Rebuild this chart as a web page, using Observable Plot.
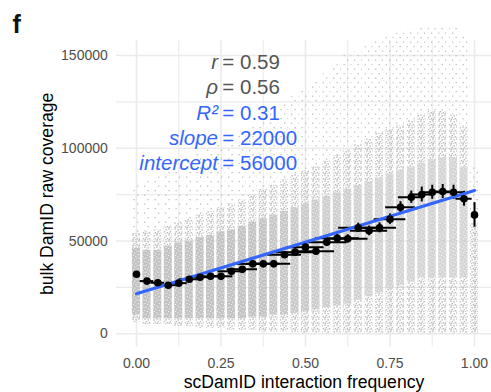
<!DOCTYPE html>
<html><head><meta charset="utf-8">
<script src="https://cdn.jsdelivr.net/npm/d3@7"></script>
<script src="https://cdn.jsdelivr.net/npm/@observablehq/plot@0.6"></script>
<style>
body{margin:0;background:#fff;}
#chart{position:relative;width:491px;height:392px;}
</style></head><body>
<svg width="0" height="0" style="position:absolute">
<defs>
<pattern id="pCore" patternUnits="userSpaceOnUse" width="7" height="7">
  <rect x="0" y="0" width="7" height="7" fill="#c3c3c3"/>
  <g fill="#ffffff">
  <rect x="1.2" y="0.6" width="1" height="1"/><rect x="4.6" y="2.1" width="1" height="1"/>
  <rect x="2.4" y="4.3" width="1" height="1"/><rect x="5.7" y="5.6" width="1" height="1"/>
  <rect x="0.2" y="3.0" width="0.9" height="0.9"/><rect x="3.6" y="6.2" width="0.9" height="0.8"/>
  </g>
</pattern>
<pattern id="pMid" patternUnits="userSpaceOnUse" width="6" height="6">
  <g fill="#bdbdbd">
  <rect x="0.2" y="0.3" width="1.5" height="1.5"/><rect x="3.4" y="1.1" width="1.5" height="1.5"/>
  <rect x="1.6" y="2.9" width="1.5" height="1.5"/><rect x="4.6" y="3.9" width="1.4" height="1.5"/>
  <rect x="0.5" y="4.6" width="1.5" height="1.4"/><rect x="2.9" y="5.2" width="1.3" height="0.8"/>
  </g>
</pattern>
<pattern id="pSparse" patternUnits="userSpaceOnUse" width="7" height="9">
  <rect x="0.5" y="1" width="1.3" height="1.3" fill="#bdbdbd"/>
  <rect x="4.0" y="5.5" width="1.3" height="1.3" fill="#bdbdbd"/>
</pattern>
</defs></svg>
<div id="chart"></div>
<script>
// ---- data ----
const binX = [0, 0.031, 0.063, 0.094, 0.125, 0.156, 0.188, 0.219, 0.25, 0.281, 0.313, 0.344, 0.375, 0.406, 0.438, 0.469, 0.5, 0.531, 0.563, 0.594, 0.625, 0.656, 0.688, 0.719, 0.75, 0.781, 0.813, 0.844, 0.875, 0.906, 0.938, 0.969, 1];
const meanCov = [32100, 28400, 27500, 26200, 27300, 29400, 30500, 31000, 31000, 33700, 34800, 37700, 37700, 37700, 42600, 44000, 46700, 44500, 49400, 51500, 51200, 57100, 55500, 57100, 61800, 68200, 73600, 75100, 76300, 76700, 76300, 72800, 64100];
const covErr = [1200, 1000, 900, 900, 900, 900, 1000, 1000, 1000, 1100, 1200, 1300, 1400, 1500, 1600, 1700, 1800, 1900, 2000, 2100, 2200, 2500, 2600, 2700, 2800, 3000, 3300, 4000, 3800, 3800, 3800, 4000, 6600];
const freqErr = [0, 0.02, 0.02, 0.025, 0.025, 0.03, 0.03, 0.035, 0.035, 0.04, 0.045, 0.045, 0.05, 0.05, 0.05, 0.055, 0.055, 0.055, 0.06, 0.065, 0.06, 0.058, 0.055, 0.05, 0.047, 0.044, 0.038, 0.036, 0.03, 0.03, 0.03, 0.024, 0];
// raw-point cloud per bin: lowest, dense-core bottom, dense-core top, medium top, highest, core density
const cloudMin    = [6000, 5000, 5000, 5000, 4000, 4000, 3000, 3000, 3000, 2000, 2000, 2000, 1000, 1000, 1000, 500, 0, 0, 0, 0, 0, 0, 0, 0, 0, 0, 0, 0, 0, 0, 0, 0, 0];
const cloudCoreLo = [10000, 8000, 8000, 8000, 8000, 8000, 8000, 8000, 8000, 8000, 8000, 9000, 9000, 10000, 10000, 11000, 12000, 13000, 14000, 15000, 16000, 18000, 20000, 22000, 24000, 26000, 28000, 30000, 30000, 30000, 30000, 30000, 40000];
const cloudCoreHi = [46000, 45000, 45000, 47000, 49000, 50000, 52000, 53000, 55000, 56000, 58000, 60000, 62000, 64000, 66000, 68000, 70000, 72000, 74000, 76000, 78000, 80000, 82000, 84000, 86000, 88000, 90000, 92000, 94000, 95000, 95000, 90000, 40000];
const cloudMidHi  = [54000, 55000, 56000, 58000, 60000, 62000, 64000, 66000, 68000, 70000, 72000, 75000, 78000, 80000, 83000, 86000, 88000, 90000, 93000, 96000, 99000, 102000, 105000, 108000, 110000, 112000, 115000, 118000, 120000, 120000, 118000, 112000, 60000];
const cloudMax    = [80000, 82000, 85000, 88000, 92000, 95000, 98000, 100000, 102000, 105000, 108000, 112000, 116000, 120000, 125000, 128000, 132000, 136000, 140000, 145000, 150000, 152000, 155000, 158000, 160000, 162000, 164000, 165000, 165000, 165000, 165000, 160000, 90000];
const cloudCoreDensity = [1, 1, 1, 1, 1, 1, 1, 1, 1, 1, 1, 1, 1, 0.92, 0.9, 0.88, 0.86, 0.84, 0.82, 0.8, 0.78, 0.76, 0.74, 0.72, 0.7, 0.7, 0.7, 0.7, 0.7, 0.7, 0.7, 0.7, 0.7];
const fitX = [0, 1];
const fitY = [21600, 77200];
const statLabels = ["r", "ρ", "R²", "slope", "intercept"];
const statValues = ["0.59", "0.56", "0.31", "22000", "56000"];
const xTicks = [0, 0.25, 0.5, 0.75, 1];
const xMinor = [0.125, 0.375, 0.625, 0.875];
const yTicks = [0, 50000, 100000, 150000];
const yMinor = [25000, 75000, 125000];

// ---- build tables ----
const bins = binX.map((x, i) => ({x, mean: meanCov[i], yerr: covErr[i], xerr: freqErr[i]}));
const tiers = [];
binX.forEach((x, i) => {
  tiers.push({x, y1: cloudMin[i], y2: cloudCoreLo[i], t: "mid", o: 1});
  tiers.push({x, y1: cloudCoreLo[i], y2: cloudCoreHi[i], t: "core", o: cloudCoreDensity[i]});
  tiers.push({x, y1: cloudCoreHi[i], y2: cloudMidHi[i], t: "mid", o: 1});
  tiers.push({x, y1: cloudMidHi[i], y2: cloudMax[i], t: "sparse", o: 1});
});
const fit = fitX.map((x, i) => ({x, y: fitY[i]}));
const statRowY = [146000, 132900, 118900, 105100, 91600];
const stats = statLabels.map((s, i) => ({label: s, value: "= " + statValues[i], y: statRowY[i], xl: 0.241, xv: 0.254, blue: i >= 2}));

const FONT = "'Liberation Sans', Arial, Helvetica, sans-serif";
const GRID = "#ebebeb";
const BLUE = "#3366FF";
const W = 0.012;
const rectOpts = {x1: d => d.x - W, x2: d => d.x + W, y1: "y1", y2: "y2"};

const plot = Plot.plot({
  width: 491, height: 392,
  marginLeft: 116, marginRight: 0, marginTop: 40, marginBottom: 45.3,
  x: {domain: [-0.0592, 1.0503]},
  y: {domain: [-7220, 158090]},
  opacity: {type: "identity"},
  style: {fontFamily: FONT, background: "white", overflow: "visible"},
  marks: [
    Plot.ruleY(yMinor, {stroke: GRID, strokeWidth: 1.1}),
    Plot.ruleX(xMinor, {stroke: GRID, strokeWidth: 1.1}),
    Plot.ruleY(yTicks, {stroke: GRID, strokeWidth: 1.6}),
    Plot.ruleX(xTicks, {stroke: GRID, strokeWidth: 1.6}),
    Plot.rect(tiers.filter(d => d.t === "sparse" && d.y2 > d.y1), {...rectOpts, fill: "url(#pSparse)"}),
    Plot.rect(tiers.filter(d => d.t === "mid" && d.y2 > d.y1), {...rectOpts, fill: "url(#pMid)"}),
    Plot.rect(tiers.filter(d => d.t === "core" && d.y2 > d.y1), {...rectOpts, fill: "url(#pCore)", fillOpacity: "o"}),
    Plot.ruleY(bins.filter(d => d.xerr > 0), {y: "mean", x1: d => d.x - d.xerr, x2: d => d.x + d.xerr, stroke: "black", strokeWidth: 2}),
    Plot.ruleX(bins, {x: "x", y1: d => d.mean - d.yerr, y2: d => d.mean + d.yerr, stroke: "black", strokeWidth: 2}),
    Plot.line(fit, {x: "x", y: "y", stroke: BLUE, strokeWidth: 3.2}),
    Plot.dot(bins, {x: "x", y: "mean", r: 3.8, fill: "black", stroke: "none"}),
    Plot.text(stats.filter(d => !d.blue), {x: "xl", y: "y", text: "label", textAnchor: "end", fontStyle: "italic", fontSize: 20.5, fill: "#555555"}),
    Plot.text(stats.filter(d => !d.blue), {x: "xv", y: "y", text: "value", textAnchor: "start", fontSize: 20.5, fill: "#555555"}),
    Plot.text(stats.filter(d => d.blue), {x: "xl", y: "y", text: "label", textAnchor: "end", fontStyle: "italic", fontSize: 20.5, fill: BLUE}),
    Plot.text(stats.filter(d => d.blue), {x: "xv", y: "y", text: "value", textAnchor: "start", fontSize: 20.5, fill: BLUE}),
    Plot.axisX({ticks: xTicks, tickSize: 0, tickPadding: 10.5, tickFormat: d3.format(".2f"), fontSize: 14, fill: "#4d4d4d", label: null}),
    Plot.axisY({ticks: yTicks, tickSize: 0, tickPadding: 8.7, tickFormat: d => String(d), fontSize: 14, fill: "#4d4d4d", label: null}),
    Plot.text(["scDamID interaction frequency"], {frameAnchor: "bottom", dy: 35, lineAnchor: "middle", textAnchor: "middle", fontSize: 17.6, fill: "black"}),
    Plot.text(["bulk DamID raw coverage"], {frameAnchor: "left", dx: -69, rotate: -90, textAnchor: "middle", lineAnchor: "middle", fontSize: 17.6, fill: "black"}),
    Plot.text(["f"], {frameAnchor: "top-left", dx: -104, dy: -24.8, lineAnchor: "top", textAnchor: "start", fontSize: 25, fontWeight: "bold", fill: "#111"})
  ]
});
document.getElementById("chart").appendChild(plot);
</script>
</body></html>
